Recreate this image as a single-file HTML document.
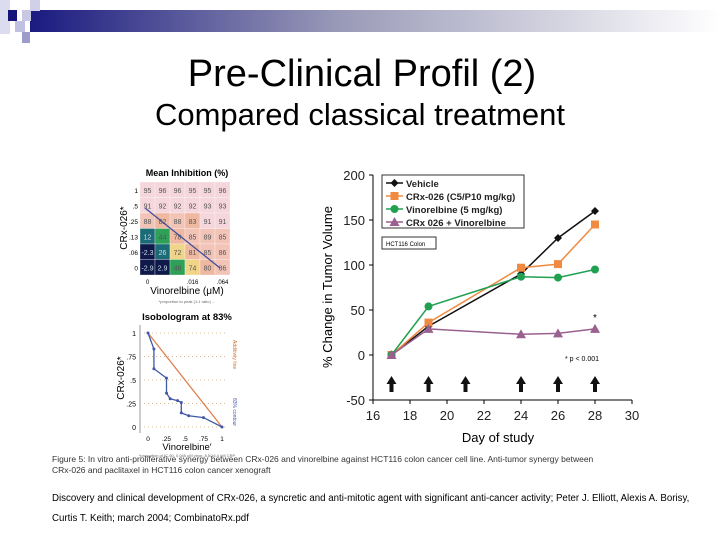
<!DOCTYPE html>
<html><head><meta charset="utf-8"><style>
body{margin:0;width:720px;height:540px;background:#fff;overflow:hidden;font-family:"Liberation Sans",sans-serif}
</style></head><body>
<svg width="720" height="540" xmlns="http://www.w3.org/2000/svg" font-family="Liberation Sans, sans-serif">
<defs><linearGradient id="bg" x1="0" x2="1"><stop offset="0" stop-color="#1a1a80"/><stop offset="0.45" stop-color="#9a9ab8"/><stop offset="1" stop-color="#ffffff"/></linearGradient></defs>
<g>
<rect x="30" y="10" width="690" height="22" fill="url(#bg)"/>
<rect x="0" y="0" width="10" height="34" fill="#dcdcf0"/>
<rect x="8" y="10" width="9" height="11" fill="#14147a"/>
<rect x="30" y="0" width="10" height="11" fill="#d0d0e8"/>
<rect x="22" y="10" width="9" height="11" fill="#c8c8e4"/>
<rect x="15" y="21" width="10" height="11" fill="#c0c0e0"/>
<rect x="22" y="32" width="8" height="11" fill="#9c9cc8"/>
</g>
<text x="362" y="86" font-size="38" text-anchor="middle">Pre-Clinical Profil (2)</text>
<text x="360" y="125" font-size="31" text-anchor="middle">Compared classical treatment</text>
<g id="heat"></g>
<g id="iso"></g>
<g id="main"></g>
<text x="52" y="462" font-size="8.5" fill="#333"><tspan>Figure 5: In vitro anti-proliferative synergy between CRx-026 and vinorelbine against HCT116 colon cancer cell line. Anti-tumor synergy between</tspan><tspan x="52" dy="11">CRx-026 and paclitaxel in HCT116 colon cancer xenograft</tspan></text>
<text x="52" y="501" font-size="9.7"><tspan>Discovery and clinical development of CRx-026, a syncretic and anti-mitotic agent with significant anti-cancer activity; Peter J. Elliott, Alexis A. Borisy,</tspan><tspan x="52" dy="20">Curtis T. Keith; march 2004; CombinatoRx.pdf</tspan></text>
</svg>
<script>
const NS="http://www.w3.org/2000/svg";
function mk(p,t,a,txt){const e=document.createElementNS(NS,t);for(const k in a)e.setAttribute(k,a[k]);if(txt!==undefined)e.textContent=txt;p.appendChild(e);return e;}
// main chart data
const days=[17,19,24,26,28];
const vehicle=[0,32,90,130,160];
const crx026=[0,36,97,101,145];
const vinorelbine=[0,54,87,86,95];
const combo=[0,29,23,24,29];
const doseDays=[17,19,21,24,26,28];
const xTicks=[16,18,20,22,24,26,28,30];
const yTicks=[-50,0,50,100,150,200];
const X=d=>373+(d-16)*18.5, Y=v=>355-v*0.9;
const g=document.getElementById('main');
mk(g,'line',{x1:373,y1:Y(200),x2:373,y2:Y(-50),stroke:'#000'});
mk(g,'line',{x1:373,y1:Y(-50),x2:X(30),y2:Y(-50),stroke:'#000'});
yTicks.forEach(v=>{mk(g,'line',{x1:369,y1:Y(v),x2:373,y2:Y(v),stroke:'#000'});
 const t=mk(g,'text',{x:365,y:Y(v)+5,'font-size':13,'text-anchor':'end',fill:'#222'},v);
 });
xTicks.forEach(v=>{mk(g,'line',{x1:X(v),y1:Y(-50),x2:X(v),y2:Y(-50)+4,stroke:'#000'});
 const t=mk(g,'text',{x:X(v),y:Y(-50)+20,'font-size':13,'text-anchor':'middle',fill:'#222'},v);
 });
let t=mk(g,'text',{x:498,y:442,'font-size':13,'text-anchor':'middle'},'Day of study');

t=mk(g,'text',{x:332,y:287,'font-size':13,'text-anchor':'middle',transform:'rotate(-90 332 287)'},'% Change in Tumor Volume');

function marker(p,type,x,y,c){
 if(type==='d')return mk(p,'path',{d:`M${x} ${y-4}L${x+4} ${y}L${x} ${y+4}L${x-4} ${y}Z`,fill:c});
 if(type==='s')return mk(p,'rect',{x:x-4,y:y-4,width:8,height:8,fill:c});
 if(type==='c')return mk(p,'circle',{cx:x,cy:y,r:4,fill:c});
 return mk(p,'path',{d:`M${x} ${y-5}L${x+5} ${y+4}L${x-5} ${y+4}Z`,fill:c});}
const series=[['vehicle',vehicle,'#111','d'],['crx026',crx026,'#f08a40','s'],['vinorelbine',vinorelbine,'#20a050','c'],['combo',combo,'#9a6090','t']];
series.forEach(([n,vals,c,m])=>{
 const pl=mk(g,'polyline',{points:vals.map((v,i)=>X(days[i])+','+Y(v)).join(' '),fill:'none',stroke:c,'stroke-width':1.5});
 
 vals.forEach((v,i)=>{const e=marker(g,m,X(days[i]),Y(v),c);
  });});
doseDays.forEach(d=>{const e=mk(g,'path',{d:`M${X(d)} 376L${X(d)+5} 384L${X(d)+2} 384L${X(d)+2} 392L${X(d)-2} 392L${X(d)-2} 384L${X(d)-5} 384Z`,fill:'#111'});
 });
mk(g,'text',{x:X(28),y:Y(38),'font-size':10,'text-anchor':'middle'},'*');
mk(g,'text',{x:599,y:361,'font-size':7,'text-anchor':'end'},'* p < 0.001');
const lg=mk(g,'g',{});
mk(lg,'rect',{x:382,y:175,width:142,height:53,fill:'#fff',stroke:'#333'});
['Vehicle','CRx-026 (C5/P10 mg/kg)','Vinorelbine (5 mg/kg)','CRx 026 + Vinorelbine'].forEach((s,i)=>{
 const y=183+i*13;mk(lg,'line',{x1:386,y1:y,x2:403,y2:y,stroke:series[i][2],'stroke-width':1.5});
 marker(lg,series[i][3],394.5,y,series[i][2]);
 const e=mk(lg,'text',{x:406,y:y+4,'font-size':9.5,'font-weight':'bold',fill:'#222'},s);
 });
mk(g,'rect',{x:382,y:237,width:54,height:12,fill:'#fff',stroke:'#333'});
mk(g,'text',{x:386,y:246,'font-size':6},'HCT116 Colon');

// heatmap
const rowLabels=['1','.5','.25','.13','.06','0'];
const colLabels=['0','','','.016','','.064'];
const heatValues=[[95,96,96,95,95,96],[91,92,92,92,93,93],[88,82,88,83,91,91],[12,44,78,85,89,85],[-2.3,26,72,81,85,86],[-2.9,2.9,46,74,80,86]];
const h=document.getElementById('heat');
function hc(v){if(v>=90)return'#f4d6dc';if(v>=85)return'#f2c4b8';if(v>=78)return'#efb8a0';if(v>=70)return'#f0d488';if(v>=40)return'#2ea058';if(v>=10)return'#1c6c78';return'#101a4a';}
mk(h,'text',{x:187,y:176,'font-size':9,'font-weight':'bold','text-anchor':'middle'},'Mean Inhibition (%)');
heatValues.forEach((row,r)=>row.forEach((v,c)=>{
 const cell=mk(h,'rect',{x:140+c*15,y:182+r*15.5,width:15,height:15.5,fill:hc(v),stroke:'#fff','stroke-width':0.3});
 
 mk(h,'text',{x:147.5+c*15,y:193+r*15.5,'font-size':7,'text-anchor':'middle',fill:v<40?'#cde':'#555'},v);}));
rowLabels.forEach((l,r)=>mk(h,'text',{x:138,y:193+r*15.5,'font-size':6.5,'text-anchor':'end'},l));
colLabels.forEach((l,c)=>mk(h,'text',{x:147.5+c*15,y:284,'font-size':6,'text-anchor':'middle'},l));
mk(h,'line',{x1:145,y1:208,x2:220,y2:268,stroke:'#4050a0','stroke-width':1.3});
mk(h,'text',{x:187,y:294,'font-size':10,'text-anchor':'middle'},'Vinorelbine (μM)');
mk(h,'text',{x:127,y:228,'font-size':10,'text-anchor':'middle',transform:'rotate(-90 127 228)'},'CRx-026*');
mk(h,'text',{x:187,y:303,'font-size':4,'text-anchor':'middle',fill:'#666'},'*proportion to peak (1:1 ratio) ...');

// isobologram
const isoX=[0,0.08,0.08,0.25,0.25,0.3,0.4,0.45,0.45,0.55,0.75,1.0];
const isoY=[1,0.83,0.62,0.52,0.36,0.3,0.28,0.26,0.15,0.12,0.1,0];
const iso=document.getElementById('iso');
const IX=v=>148+v*74, IY=v=>427-v*94;
mk(iso,'text',{x:187,y:320,'font-size':9.5,'font-weight':'bold','text-anchor':'middle'},'Isobologram at 83%');
mk(iso,'line',{x1:140,y1:325,x2:140,y2:433,stroke:'#999'});
[0,.25,.5,.75,1].forEach(v=>{mk(iso,'line',{x1:140,y1:IY(v),x2:226,y2:IY(v),stroke:'#d9b89a','stroke-dasharray':'1 3'});
 mk(iso,'text',{x:136,y:IY(v)+3,'font-size':7,'text-anchor':'end'},v===0?'0':String(v).replace('0.','.'));
 mk(iso,'text',{x:IX(v),y:441,'font-size':6.5,'text-anchor':'middle'},v===0?'0':String(v).replace('0.','.'));});
mk(iso,'line',{x1:IX(0),y1:IY(1),x2:IX(1),y2:IY(0),stroke:'#e08050','stroke-width':1.3});
const ip=mk(iso,'polyline',{points:isoX.map((x,i)=>IX(x)+','+IY(isoY[i])).join(' '),fill:'none',stroke:'#4058a8','stroke-width':1.3});

isoX.forEach((x,i)=>mk(iso,'circle',{cx:IX(x),cy:IY(isoY[i]),r:1.5,fill:'#4058a8'}));
mk(iso,'text',{x:187,y:450,'font-size':9.5,'text-anchor':'middle'},'Vinorelbine\u2032');
mk(iso,'text',{x:124,y:378,'font-size':10,'text-anchor':'middle',transform:'rotate(-90 124 378)'},'CRx-026*');
mk(iso,'text',{x:233,y:340,'font-size':5,'fill':'#d07030',transform:'rotate(90 233 340)'},'Additivity line');
mk(iso,'text',{x:233,y:398,'font-size':5,'fill':'#4058a8',transform:'rotate(90 233 398)'},'83% contour');
mk(iso,'text',{x:187,y:457,'font-size':4,'text-anchor':'middle',fill:'#666'},'*proportion of IC-50, 0.045 uM vinor, 8.5/16.4 uM CRP');
</script>
</body></html>
